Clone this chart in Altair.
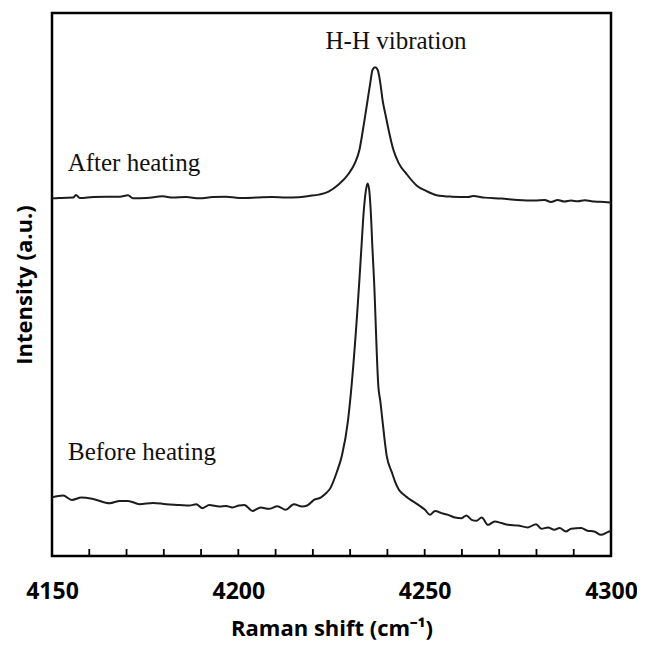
import altair as alt
import pandas as pd

# Raman shift (cm-1) and intensity (a.u.)
before_x = [4150.0, 4153.0, 4155.3, 4157.9, 4161.0, 4165.5, 4168.2, 4170.4, 4173.5, 4177.1,
            4180.6, 4184.2, 4186.9, 4188.7, 4190.4, 4192.2, 4194.9, 4196.7, 4198.4, 4200.2,
            4201.6, 4203.8, 4206.0, 4208.2, 4210.5, 4212.7, 4214.9, 4217.1, 4218.5, 4220.3,
            4222.1, 4223.3, 4224.7, 4226.5, 4227.8, 4229.4, 4230.2, 4232.5, 4233.0, 4233.7,
            4234.2, 4234.7, 4235.1, 4235.5, 4236.0, 4236.4, 4237.6, 4238.1, 4238.7, 4239.8,
            4241.2, 4242.0, 4243.0, 4244.2, 4245.6, 4248.3, 4250.1, 4251.4, 4252.8, 4254.5,
            4256.3, 4258.1, 4259.9, 4261.2, 4262.6, 4263.9, 4265.3, 4267.0, 4268.8, 4270.6,
            4272.4, 4275.0, 4277.7, 4279.9, 4281.3, 4283.1, 4284.8, 4286.2, 4287.9, 4289.3,
            4292.0, 4293.7, 4295.5, 4297.3, 4299.1, 4300.0]
before_y = [10.8, 11.14, 10.33, 10.77, 10.51, 9.72, 10.15, 10.15, 9.54, 9.78,
            9.54, 9.41, 9.30, 9.54, 8.81, 9.41, 9.12, 9.23, 8.94, 9.30,
            9.41, 8.31, 8.94, 8.68, 9.17, 8.50, 9.54, 9.12, 9.30, 10.33,
            10.77, 11.4, 12.5, 15.6, 18.5, 24.8, 30.0, 51.0, 56.5, 63.9,
            67.2, 68.6, 67.5, 63.9, 56.5, 51.0, 31.0, 28.5, 24.8, 18.5,
            15.4, 13.8, 12.3, 11.4, 10.64, 9.41, 8.50, 7.58, 8.31, 7.89,
            7.58, 7.10, 6.97, 7.47, 6.66, 6.48, 7.10, 5.74, 6.37, 6.06,
            5.74, 5.63, 5.27, 5.87, 5.01, 5.27, 4.83, 5.14, 4.53, 5.01,
            5.14, 4.64, 4.53, 3.91, 4.40, 4.6]

after_x = [4150.0, 4150.8, 4152.5, 4155.7, 4156.4, 4157.5, 4161.0, 4164.6, 4168.2, 4170.4,
           4171.7, 4175.3, 4179.7, 4182.4, 4186.0, 4189.5, 4193.1, 4196.7, 4200.2, 4204.7,
           4209.1, 4212.7, 4216.2, 4218.9, 4221.6, 4224.2, 4226.9, 4229.5, 4231.3, 4232.5,
           4233.3, 4234.0, 4234.7, 4235.4, 4236.0, 4236.7, 4237.4, 4238.1, 4238.7, 4239.6,
           4240.5, 4241.6, 4243.0, 4245.2, 4247.9, 4250.5, 4253.2, 4257.2, 4261.7, 4263.0,
           4266.1, 4270.6, 4275.0, 4279.5, 4282.2, 4283.9, 4285.7, 4287.5, 4289.3, 4291.1,
           4292.9, 4295.6, 4298.2, 4300.0]
after_y = [65.9, 65.87, 65.95, 66.0, 66.48, 65.93, 66.11, 66.18, 66.18, 66.42,
           65.87, 65.93, 66.24, 66.0, 66.11, 65.87, 66.11, 66.18, 65.93, 66.0,
           66.11, 66.0, 66.05, 66.3, 66.55, 67.1, 68.4, 70.3, 72.4, 74.8,
           77.9, 80.9, 84.0, 87.1, 89.5, 90.0, 89.5, 87.1, 84.0, 80.9,
           77.9, 74.8, 72.4, 70.3, 68.2, 67.2, 66.45, 66.18, 66.1, 66.29,
           66.0, 65.82, 65.56, 65.45, 65.56, 65.19, 65.56, 65.27, 65.45, 65.32,
           65.5, 65.27, 65.19, 65.08]

tick_values = [4150, 4160, 4170, 4180, 4190, 4200, 4210, 4220, 4230, 4240,
               4250, 4260, 4270, 4280, 4290, 4300]
label_values = [4150, 4200, 4250, 4300]

ann_text = ["H-H vibration", "After heating", "Before heating"]
ann_x = [4242.3, 4154.2, 4154.3]
ann_y = [93.4, 70.9, 17.6]
ann_align = ["center", "left", "left"]

df = pd.concat([
    pd.DataFrame({"shift": before_x, "intensity": before_y, "series": "Before heating"}),
    pd.DataFrame({"shift": after_x, "intensity": after_y, "series": "After heating"}),
])
ticks_df = pd.DataFrame({"tick": tick_values})
ann_df = pd.DataFrame({"text": ann_text, "x": ann_x, "y": ann_y, "align": ann_align})

W, H = 559, 543
xscale = alt.Scale(domain=[4150, 4300], nice=False, zero=False)
yscale = alt.Scale(domain=[0, 100], nice=False, zero=False)

lines = alt.Chart(df).mark_line(color="#1c1c1c", strokeWidth=2, interpolate="monotone").encode(
    x=alt.X("shift:Q", scale=xscale,
            axis=alt.Axis(values=label_values, format="d", title="Raman shift (cm⁻¹)",
                          domain=False, ticks=False, tickSize=0, grid=False,
                          labelFont="Open Sans", labelFontWeight="bold", labelFontSize=23,
                          labelColor="black", labelPadding=24, labelFlush=False,
                          titleFont="Open Sans", titleFontWeight="bold", titleFontSize=22,
                          titleColor="black", titleY=79, titleBaseline="alphabetic")),
    y=alt.Y("intensity:Q", scale=yscale,
            axis=alt.Axis(labels=False, ticks=False, domain=False, grid=False,
                          title="Intensity (a.u.)", titleFont="Open Sans",
                          titleFontWeight="bold", titleFontSize=22, titleColor="black",
                          titleX=-21, titleY=H / 2, titleBaseline="alphabetic")),
    detail="series:N",
)

ticks = alt.Chart(ticks_df).mark_rule(color="black", strokeWidth=1.8).encode(
    x=alt.X("tick:Q", scale=xscale),
    y=alt.value(H),
    y2=alt.value(H - 7),
)

left_text = alt.Chart(ann_df[ann_df["align"] == "left"]).mark_text(
    font="Liberation Serif", fontSize=25, align="left", baseline="alphabetic", color="#111"
).encode(x=alt.X("x:Q", scale=xscale), y=alt.Y("y:Q", scale=yscale), text="text:N")

center_text = alt.Chart(ann_df[ann_df["align"] == "center"]).mark_text(
    font="Liberation Serif", fontSize=25, align="center", baseline="alphabetic", color="#111"
).encode(x=alt.X("x:Q", scale=xscale), y=alt.Y("y:Q", scale=yscale), text="text:N")

chart = alt.layer(lines, ticks, left_text, center_text).properties(
    width=W, height=H,
    autosize=alt.AutoSizeParams(type="none"),
    padding={"left": 44, "top": 5, "right": 26, "bottom": 87},
    background="white",
).configure_view(stroke="black", strokeWidth=2.5)

chart.save("out.html", embed_options={"renderer": "svg", "actions": False})
